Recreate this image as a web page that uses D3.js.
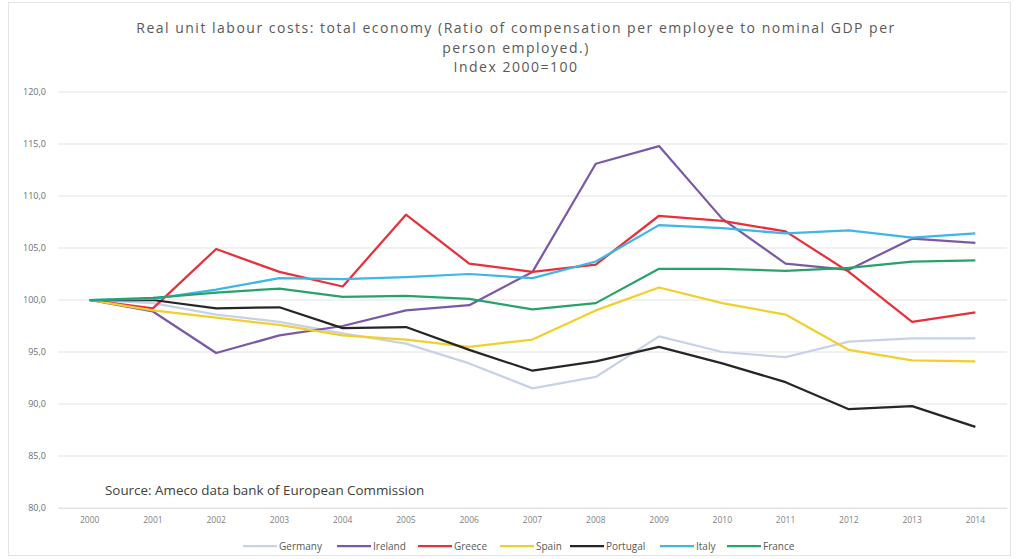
<!DOCTYPE html>
<html><head><meta charset="utf-8">
<script src="https://cdn.jsdelivr.net/npm/d3@7"></script>
<style>body{margin:0;background:#fff;}svg{display:block;font-family:"Open Sans","Liberation Sans",sans-serif;}</style>
</head><body><svg id="c" width="1017" height="559"></svg>
<script>
const years = ["2000","2001","2002","2003","2004","2005","2006","2007","2008","2009","2010","2011","2012","2013","2014"];
const yTicks = [80,85,90,95,100,105,110,115,120];
const germany  = [100,99.7,98.6,97.9,96.8,95.8,93.9,91.5,92.6,96.5,95.0,94.5,96.0,96.3,96.3];
const ireland  = [100,98.9,94.9,96.6,97.5,99.0,99.5,102.7,113.1,114.8,107.8,103.5,102.9,105.9,105.5];
const greece   = [100,99.2,104.9,102.7,101.3,108.2,103.5,102.7,103.4,108.1,107.6,106.6,102.7,97.9,98.8];
const spain    = [100,99.0,98.3,97.6,96.6,96.2,95.5,96.2,99.0,101.2,99.7,98.6,95.2,94.2,94.1];
const portugal = [100,100.0,99.2,99.3,97.3,97.4,95.2,93.2,94.1,95.5,93.9,92.1,89.5,89.8,87.8];
const italy    = [100,100.1,101.0,102.1,102.0,102.2,102.5,102.1,103.7,107.2,106.9,106.4,106.7,106.0,106.4];
const france   = [100,100.2,100.7,101.1,100.3,100.4,100.1,99.1,99.7,103.0,103.0,102.8,103.1,103.7,103.8];
const seriesNames = ["Germany","Ireland","Greece","Spain","Portugal","Italy","France"];
const seriesData = [germany, ireland, greece, spain, portugal, italy, france];
const colors = ["#c8d2e6","#7a5aa6","#e8303a","#f2d02c","#262626","#3db6e8","#27a36a"];

const svg = d3.select("#c");
svg.append("rect").attr("x",8.5).attr("y",2.5).attr("width",1002).attr("height",553)
  .attr("fill","#fff").attr("stroke","#e4e4e4");

const x = d3.scaleBand().domain(years).range([58,1007]).padding(0);
const y = d3.scaleLinear().domain([80,120]).range([508,92]);
const cx = d => x(d) + x.bandwidth()/2;
const loc = d3.formatLocale({decimal:",",thousands:".",grouping:[3],currency:["","€"]});
const fmt = loc.format(".1f");

// gridlines
svg.append("g").selectAll("line").data(yTicks).join("line")
  .attr("x1",58).attr("x2",1007).attr("y1",d=>y(d)).attr("y2",d=>y(d))
  .attr("stroke","#e3e3e3").attr("stroke-width",1);

// y axis
const ya = svg.append("g").attr("transform","translate(50,0)")
  .call(d3.axisLeft(y).tickValues(yTicks).tickFormat(fmt).tickSize(0).tickPadding(4));
ya.select(".domain").remove();
ya.selectAll("text").attr("fill","#6f6f6f").style("font-size","9px").style("font-family","'Open Sans',sans-serif");

// x axis
const xa = svg.append("g").attr("transform","translate(0,508)")
  .call(d3.axisBottom(x).tickSize(0).tickPadding(9));
xa.select(".domain").attr("stroke","#e3e3e3");
xa.selectAll("text").attr("fill","#7f7f7f").style("font-size","8.5px").style("font-family","'Open Sans',sans-serif");

// lines
const line = d3.line().x((d,i)=>cx(years[i])).y(d=>y(d));
svg.append("g").selectAll("path").data(seriesData).join("path")
  .attr("d",line).attr("fill","none")
  .attr("stroke",(d,i)=>colors[i]).attr("stroke-width",2.25)
  .attr("stroke-linejoin","round");

// title
const title = ["Real unit labour costs: total economy (Ratio of compensation per employee to nominal GDP per","person employed.)","Index 2000=100"];
svg.append("g").selectAll("text").data(title).join("text")
  .attr("x",516).attr("y",(d,i)=>[33,53,72][i]).attr("text-anchor","middle")
  .attr("fill","#595959").style("font-size","14px").style("letter-spacing","1.5px").text(d=>d);

// source
svg.append("text").attr("x",105).attr("y",495).attr("fill","#404040")
  .style("font-size","13.4px").text("Source: Ameco data bank of European Commission");

// legend
const legX = [243,337,418,500,570,660,727];
const lg = svg.append("g").selectAll("g").data(seriesNames).join("g")
  .attr("transform",(d,i)=>`translate(${legX[i]},546)`);
lg.append("line").attr("x1",0).attr("x2",34).attr("y1",0).attr("y2",0)
  .attr("stroke",(d,i)=>colors[i]).attr("stroke-width",2.25);
lg.append("text").attr("x",36).attr("y",3.5).attr("fill","#595959")
  .style("font-size","10px").text(d=>d);
</script></body></html>
